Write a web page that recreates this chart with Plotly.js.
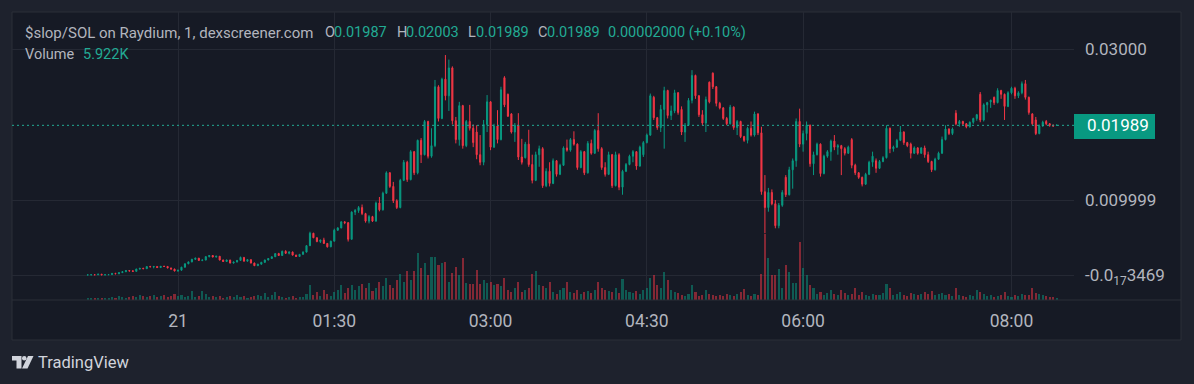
<!DOCTYPE html>
<html><head><meta charset="utf-8">
<script src="https://cdn.plot.ly/plotly-3.0.1.min.js"></script>
<style>html,body{margin:0;padding:0;background:#1e222d;}#chart{width:1194px;height:384px;}</style>
</head><body><div id="chart"></div>
<script>
// time of first candle, minutes relative to 00:00 on the 21st; candles every 2 minutes
const startMinute = -52;
const stepMinutes = 2;
// prices in units of 0.00001 SOL
const openE5 = [
7,8,10,9,18,8,10,12,28,22,
38,50,65,60,55,85,95,90,118,115,
120,105,122,120,100,85,60,70,110,155,
180,215,230,200,205,250,265,245,255,205,
185,205,165,178,200,240,190,210,165,130,
150,175,205,225,248,290,265,320,295,310,
270,252,280,310,395,560,500,450,470,425,
380,455,600,630,710,700,480,840,860,900,
820,720,780,720,960,870,1090,1360,1180,990,
900,1260,1500,1270,1640,1360,1790,1600,2040,1580,
1720,2500,2080,2600,2380,2750,2050,1800,2250,1720,
2040,1950,1900,1600,1500,2000,2300,1700,1980,1800,
2620,2400,2140,1900,1990,1570,1560,1740,1470,1260,
1600,1680,1190,1380,1220,1520,1340,1460,1690,1660,
1800,1740,1430,1640,1360,1750,1620,1920,1680,1430,
1340,1600,1190,1600,1170,1380,1470,1580,1640,1450,
1600,1760,1860,2360,2090,1960,2200,2450,2120,2180,
2420,2200,1900,1990,2320,2650,2380,2130,2020,2560,
2680,2500,2280,2220,2080,2010,2230,1960,2040,1840,
1790,1950,1860,2140,1890,1110,900,1100,950,660,
930,1300,1070,1400,1520,2040,1740,1880,1990,1480,
1600,1740,1350,1580,1640,1780,1700,1720,1680,1620,
1800,1460,1360,1300,1210,1340,1500,1520,1420,1510,
1560,1950,1680,1700,1790,1900,1760,1740,1620,1690,
1620,1690,1600,1510,1400,1540,1620,1800,1940,1880,
2150,2010,2040,2010,1970,2030,2080,2400,2060,2260,
2300,2360,2290,2450,2400,2240,2420,2480,2380,2420,
2540,2360,2140,2060,1880,1980,2040,2010,1990,1987];
const highE5 = [
10,12,15,20,19,12,14,30,35,40,
55,70,72,72,90,100,102,122,128,125,
122,125,128,122,102,90,75,115,160,185,
220,235,232,210,255,270,270,262,258,210,
210,208,182,205,250,242,215,212,170,155,
180,210,230,252,295,300,330,335,320,318,
275,285,320,400,580,565,505,475,500,430,
460,620,640,720,720,705,850,880,920,940,
830,800,790,980,1040,1110,1380,1370,1240,1010,
1280,1530,1520,1660,1650,1800,1820,2060,2050,1950,
2590,2520,2620,2920,2860,2770,2100,2300,2260,2060,
2260,2000,1990,1860,2060,2390,2310,2010,2190,2500,
2640,2410,2150,2020,2150,1810,1770,1930,1600,1640,
1720,1700,1420,1500,1550,1530,1480,1710,1800,1820,
1910,1750,1660,1650,1780,1800,1940,2150,1700,1500,
1640,1610,1640,1620,1400,1490,1600,1660,1645,1720,
1780,1880,2410,2380,2100,2260,2500,2460,2250,2460,
2430,2240,2020,2350,2720,2660,2390,2190,2370,2570,
2690,2510,2300,2230,2100,2260,2240,2060,2050,1850,
1970,2040,2170,2150,1970,1330,1160,1140,1000,960,
1130,1330,1440,1550,2080,2210,1920,2040,2000,1640,
1760,1750,1600,1660,1800,1860,1740,1730,1700,1720,
1820,1480,1370,1310,1360,1520,1640,1550,1530,1580,
1990,1960,1720,1810,1980,1910,1770,1760,1710,1700,
1700,1720,1640,1520,1560,1640,1840,1990,1950,1960,
2190,2060,2050,2020,2040,2090,2140,2430,2280,2300,
2330,2370,2480,2460,2410,2440,2500,2500,2440,2570,
2590,2370,2150,2100,2000,2050,2060,2020,2000,2003];
const lowE5 = [
5,6,8,8,7,5,8,10,20,20,
35,45,55,50,52,80,85,88,110,95,
100,100,112,95,80,55,50,65,105,150,
175,205,195,190,200,240,240,238,200,180,
180,160,158,175,198,185,185,160,125,125,
145,165,200,220,245,260,260,285,280,265,
248,248,275,305,390,495,440,430,420,370,
375,450,590,625,680,450,475,800,830,800,
700,690,710,715,850,860,1080,1160,960,880,
890,1250,1240,1260,1330,1340,1490,1590,1550,1560,
1700,2040,2070,2320,2180,2000,1750,1720,1680,1700,
1920,1700,1540,1460,1460,1900,1660,1690,1750,1790,
2230,2100,1880,1770,1530,1470,1550,1440,1220,1250,
1440,1160,1170,1180,1210,1310,1330,1450,1640,1640,
1720,1400,1420,1330,1350,1600,1610,1640,1400,1310,
1330,1160,1180,1130,1070,1370,1460,1500,1400,1440,
1570,1750,1850,2060,1930,1900,1680,2080,2060,2150,
2130,1860,1770,1980,2280,2340,2100,1990,1900,2280,
2470,2240,2200,2060,1990,2000,1930,1860,1820,1770,
1750,1840,1840,1860,1070,560,845,930,625,625,
910,1040,1060,1150,1440,1700,1640,1790,1440,1330,
1590,1310,1340,1560,1520,1660,1600,1330,1590,1610,
1420,1330,1280,1180,1200,1330,1440,1360,1410,1500,
1550,1620,1640,1690,1780,1730,1700,1550,1610,1600,
1610,1560,1490,1370,1390,1530,1610,1790,1860,1860,
1990,1970,1990,1950,1960,2010,2050,2030,2040,2160,
2220,2260,2280,2340,2060,2230,2400,2340,2350,2400,
2330,2130,1990,1860,1870,1970,1990,1970,1970,1989];
const closeE5 = [
8,10,9,18,8,10,12,28,22,38,
50,65,60,55,85,95,90,118,115,120,
105,122,120,100,85,60,70,110,155,180,
215,230,200,205,250,265,245,255,205,185,
205,165,178,200,240,190,210,165,130,150,
175,205,225,248,290,265,320,295,310,270,
252,280,310,395,560,500,450,470,425,380,
455,600,630,710,700,480,840,860,900,820,
720,780,720,960,870,1090,1360,1180,990,900,
1260,1500,1270,1640,1360,1790,1600,2040,1580,1720,
2500,2080,2600,2380,2750,2050,1800,2250,1720,2040,
1950,1760,1600,1500,2000,2300,1700,1980,1800,2460,
2260,2110,1900,1990,1570,1500,1740,1470,1260,1600,
1680,1190,1380,1220,1520,1340,1460,1690,1660,1800,
1740,1430,1640,1360,1750,1620,1920,1680,1430,1340,
1600,1190,1600,1170,1380,1470,1580,1640,1450,1700,
1760,1860,2380,2090,1960,2200,2450,2120,2180,2420,
2160,1900,1990,2320,2650,2380,2130,2020,2330,2300,
2500,2280,2220,2080,2010,2230,1960,2040,1840,1790,
1950,1860,2140,1890,1110,900,1100,950,660,930,
1100,1070,1400,1520,2040,1740,1880,1990,1480,1600,
1740,1350,1580,1640,1780,1700,1720,1680,1620,1700,
1460,1360,1300,1210,1340,1500,1580,1420,1510,1560,
1950,1680,1700,1790,1900,1760,1720,1620,1690,1620,
1690,1600,1510,1400,1540,1620,1800,1940,1880,1940,
2010,2040,2010,1970,2030,2080,2130,2060,2260,2290,
2320,2290,2450,2400,2240,2420,2480,2380,2420,2540,
2360,2160,2010,1880,1980,2030,2010,1990,1980,1989];
// volume in thousands
const volumeK = [
5,5,4,5,5,4,5,8,5,10,
8,5,8,10,8,13,10,8,10,13,
8,10,13,8,10,15,10,13,8,10,
23,8,10,23,15,8,10,8,10,5,
8,10,8,13,8,10,5,8,10,13,
10,18,8,13,20,10,8,5,8,10,
5,8,8,15,38,13,20,10,25,15,
10,20,25,38,18,30,38,25,35,40,
30,43,23,30,45,35,55,38,30,50,
65,45,73,50,73,118,80,93,63,108,
108,88,93,95,45,68,83,63,105,43,
40,40,75,40,50,43,45,38,40,35,
55,25,20,30,45,20,25,30,65,73,
38,35,30,45,20,15,25,30,45,20,
18,25,15,20,23,18,25,45,30,25,
23,20,30,18,53,25,20,18,23,15,
25,30,55,63,38,30,70,50,25,20,
18,13,10,15,38,20,10,13,25,15,
13,10,13,10,15,13,10,15,20,28,
13,10,15,13,65,165,105,63,63,78,
30,88,70,43,43,145,80,63,38,30,
15,20,13,18,25,15,13,25,18,13,
15,30,13,20,13,10,15,13,13,18,
40,30,13,15,20,13,10,18,15,13,
15,20,15,23,13,15,18,13,15,10,
30,13,10,8,13,10,25,20,15,10,
13,8,10,13,20,10,8,13,10,15,
13,13,30,18,15,13,10,8,8,5.922];
const xTickVals = [0, 90, 180, 270, 360, 480];
const xTickText = ['21', '01:30', '03:00', '04:30', '06:00', '08:00'];
const yTickVals = [0, 0.01, 0.03];
const yTickText = ['-0.0<sub>17</sub>3469', '0.009999', '0.03000'];
const pairTitle = '$slop/SOL on Raydium, 1, dexscreener.com';

const UP = '#089981', DOWN = '#f23645', TXT_UP = '#22ab94', GRAY = '#b2b5be';
const GRID = '#252934', BORDER = '#2a2e39', PANE = '#161a25', OUTER = '#1e222d';
const FONT = 'Roboto, "Noto Sans", sans-serif';

const times = openE5.map((_, i) => startMinute + i * stepMinutes);
const toPrice = v => v / 1e5;
const n = closeE5.length - 1;
const isUp = openE5.map((o, i) => closeE5[i] >= o);

// layout geometry (pixels)
const ML = 12, MR = 120, MT = 12, MB = 84, W = 1194, H = 384;
const PW = W - ML - MR, PH = H - MT - MB;
const X = px => (px - ML) / PW;
const Y = py => (H - MB - py) / PH;

const candles = {
  type: 'candlestick', x: times,
  open: openE5.map(toPrice), high: highE5.map(toPrice), low: lowE5.map(toPrice), close: closeE5.map(toPrice),
  xaxis: 'x', yaxis: 'y2', whiskerwidth: 0,
  increasing: {line: {color: UP, width: 1}, fillcolor: UP},
  decreasing: {line: {color: DOWN, width: 1}, fillcolor: DOWN},
  showlegend: false, hoverinfo: 'skip'
};
const volume = {
  type: 'bar', x: times, y: volumeK, xaxis: 'x', yaxis: 'y', width: 1.2,
  marker: {color: isUp.map(u => u ? 'rgba(8,153,129,0.5)' : 'rgba(242,54,69,0.5)'), line: {width: 0}},
  showlegend: false, hoverinfo: 'skip'
};

const lastO = toPrice(openE5[n]), lastH = toPrice(highE5[n]), lastL = toPrice(lowE5[n]), lastC = toPrice(closeE5[n]);
const chg = lastC - lastO, pct = chg / lastO * 100;
const f5 = v => v.toFixed(5);

function ann(text, px, py, color, size, extra) {
  return Object.assign({text, x: X(px), y: Y(py), xref: 'paper', yref: 'paper', xanchor: 'left', yanchor: 'middle',
    showarrow: false, borderpad: 0, font: {family: FONT, size, color}}, extra || {});
}
const HS = 14.5;
const annotations = [
  ann(pairTitle, 23.5, 32.5, GRAY, 15),
  ann('O', 323.5, 32.5, GRAY, HS), ann(f5(lastO), 333, 32.5, TXT_UP, HS),
  ann('H', 395.5, 32.5, GRAY, HS), ann(f5(lastH), 405, 32.5, TXT_UP, HS),
  ann('L', 467, 32.5, GRAY, HS), ann(f5(lastL), 475, 32.5, TXT_UP, HS),
  ann('C', 536.5, 32.5, GRAY, HS), ann(f5(lastC), 545.5, 32.5, TXT_UP, HS),
  ann(chg.toFixed(8) + ' (' + (pct >= 0 ? '+' : '') + pct.toFixed(2) + '%)', 607, 32.5, TXT_UP, HS),
  ann('Volume', 23.5, 54.5, GRAY, HS), ann(volumeK[n].toFixed(3) + 'K', 82, 54.5, TXT_UP, HS),
  Object.assign(ann(f5(lastC), 1086, 0, '#ffffff', 17), {yref: 'y2', y: lastC}),
  ann('TradingView', 37, 362, '#d1d4dc', 16.5)
];
const P = (px, py) => X(px) + ',' + Y(py);
const shapes = [
  {type: 'rect', xref: 'paper', yref: 'paper', x0: X(12), x1: X(1181), y0: Y(340), y1: Y(12), layer: 'below',
   fillcolor: PANE, line: {color: BORDER, width: 1}},
  {type: 'line', xref: 'paper', yref: 'paper', x0: X(12), x1: X(1181), y0: Y(300), y1: Y(300), line: {color: BORDER, width: 1}},
  {type: 'line', xref: 'paper', yref: 'y2', x0: 0, x1: 1, y0: lastC, y1: lastC, line: {color: TXT_UP, width: 1, dash: '2px,3px'}},
  {type: 'rect', xref: 'paper', yref: 'paper', x0: X(1074), x1: X(1155), y0: Y(139), y1: Y(114), fillcolor: UP, line: {width: 0}},
  {type: 'path', xref: 'paper', yref: 'paper', path: 'M' + P(12, 356) + 'L' + P(21.5, 356) + 'L' + P(21.5, 368.5) + 'L' + P(16.5, 368.5) + 'L' + P(16.5, 360.5) + 'L' + P(12, 360.5) + 'Z', fillcolor: '#d1d4dc', line: {width: 0}},
  {type: 'circle', xref: 'paper', yref: 'paper', x0: X(22), x1: X(26.5), y0: Y(360.5), y1: Y(356), fillcolor: '#d1d4dc', line: {width: 0}},
  {type: 'path', xref: 'paper', yref: 'paper', path: 'M' + P(28, 356) + 'L' + P(33.5, 356) + 'L' + P(27.5, 368.5) + 'L' + P(22, 368.5) + 'Z', fillcolor: '#d1d4dc', line: {width: 0}}
];

const layout = {
  width: W, height: H, margin: {l: ML, r: MR, t: MT, b: MB, pad: 0},
  paper_bgcolor: OUTER, plot_bgcolor: PANE, showlegend: false, hovermode: false, boxgap: 0.55, bargap: 0,
  xaxis: {range: [-95.6, 516.0], tickvals: xTickVals, ticktext: xTickText, showgrid: true, gridcolor: GRID, gridwidth: 1,
    zeroline: false, showline: false, ticks: '', ticklabelstandoff: 8, tickfont: {family: FONT, size: 17.5, color: GRAY},
    rangeslider: {visible: false}, fixedrange: true},
  yaxis: {range: [0, 720], visible: false, showgrid: false, zeroline: false, fixedrange: true},
  yaxis2: {overlaying: 'y', side: 'right', anchor: 'x', range: [-0.003245, 0.034901], tickvals: yTickVals, ticktext: yTickText,
    showgrid: true, gridcolor: GRID, gridwidth: 1, zeroline: false, showline: false, ticks: '', ticklabelstandoff: 10,
    tickfont: {family: FONT, size: 17, color: GRAY}, fixedrange: true},
  annotations, shapes
};
Plotly.newPlot('chart', [volume, candles], layout, {staticPlot: true, displayModeBar: false});
</script></body></html>
